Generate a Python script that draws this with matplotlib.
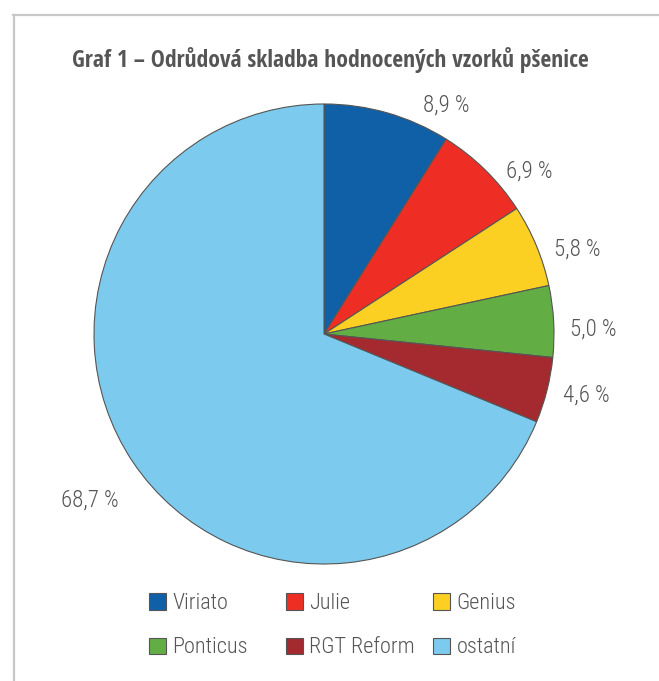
import numpy as np
import matplotlib
matplotlib.use("Agg")
import matplotlib.pyplot as plt
from matplotlib.lines import Line2D
from matplotlib.patches import Patch

# data
VARIETIES = ["Viriato", "Julie", "Genius", "Ponticus", "RGT Reform", "ostatní"]
SHARES = [8.9, 6.9, 5.8, 5.0, 4.6, 68.7]
COLORS = ["#1060a8", "#ee2e24", "#fbd022", "#62ae45", "#a42a30", "#7ccbee"]
TITLE = "Graf 1 – Odrůdová skladba hodnocených vzorků pšenice"

# Excel places the outside labels a bit off the wedge middle
LABEL_NUDGE = [-12, -7, -4, -2, 1, 1.5]   # degrees
LABEL_DIST = [1.13, 1.14, 1.16, 1.17, 1.17, 1.25]

BODY = ["Roboto Condensed", "DejaVu Sans"]
HEAD = ["Open Sans Condensed", "Roboto Condensed", "DejaVu Sans"]
plt.rcParams["font.family"] = BODY
TXT = "#555555"
LIGHT = 300

fig = plt.figure(figsize=(6.59, 6.81), dpi=100)

# grey frame, top and left edge
fig.add_artist(Line2D([13 / 659, 1], [1 - 15 / 681] * 2, color="#c8c8c8", lw=1.6))
fig.add_artist(Line2D([14 / 659] * 2, [0, 1 - 15 / 681], color="#c8c8c8", lw=1.6))

fig.text(330 / 659, 1 - 60 / 681, TITLE, ha="center", va="center",
         fontsize=17, fontweight="bold", color=TXT, family=HEAD)

ax = fig.add_axes([94 / 659, 1 - 564 / 681, 460 / 659, 460 / 681])
wedges, _ = ax.pie(SHARES, colors=COLORS, startangle=90, counterclock=False,
                   radius=1, wedgeprops=dict(edgecolor="#555555", linewidth=0.8))
ax.set_xlim(-1, 1)
ax.set_ylim(-1, 1)
ax.set_aspect("equal")
ax.axis("off")

for w, val, nudge, dist in zip(wedges, SHARES, LABEL_NUDGE, LABEL_DIST):
    ang = np.deg2rad((w.theta1 + w.theta2) / 2 + nudge)
    ax.text(dist * np.cos(ang), dist * np.sin(ang), f"{val:.1f} %".replace(".", ","),
            ha="center", va="center", fontsize=16.5, fontweight=LIGHT, color=TXT)

# legend laid out like Excel: fixed column starts, row-major order
col_x = [138 / 659, 275 / 659, 422 / 659]
for j, x in enumerate(col_x):
    handles = [Patch(facecolor=COLORS[i], edgecolor="#555555", linewidth=0.8)
               for i in (j, j + 3)]
    fig.legend(handles, [VARIETIES[j], VARIETIES[j + 3]], loc="upper left",
               bbox_to_anchor=(x, 1 - 582 / 681), frameon=False,
               prop=dict(size=16, weight=LIGHT),
               handlelength=0.75, handleheight=0.75, handletextpad=0.3,
               labelspacing=1.05, borderpad=0, labelcolor=TXT)

fig.savefig("out.png", dpi=100)
